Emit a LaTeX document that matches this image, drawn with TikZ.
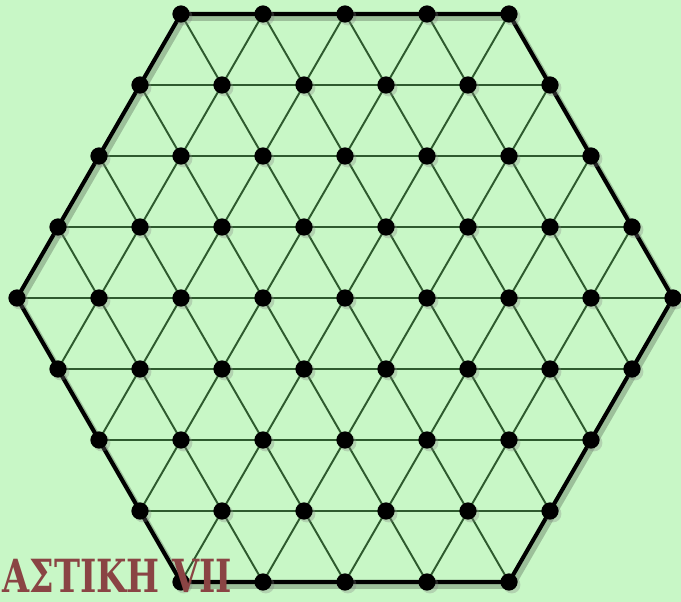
\documentclass[tikz,border=0pt]{standalone}
\usepackage{graphicx}
\usepackage{fontspec}
\usetikzlibrary{backgrounds,shadows}
\newfontfamily\labelfont{DejaVu Serif}
\definecolor{paper}{HTML}{C8F7C6}
\definecolor{meshgreen}{HTML}{2E5A2E}
\definecolor{titlered}{HTML}{8A4444}

\begin{document}
\begin{tikzpicture}[
  x=0.02cm, y=-0.02cm,
  dot/.style={circle, fill=black, inner sep=0pt, minimum size=9.8pt,
              drop shadow={shadow xshift=1.6pt, shadow yshift=-1.6pt, opacity=0.3}},
  mesh/.style={draw=meshgreen, line width=1.1pt},
  rim/.style={draw=black, line width=2.3pt, line join=round},
  rimshade/.style={draw=black, opacity=0.22, line width=3.2pt, line join=round},
  title/.style={font=\labelfont\bfseries\fontsize{26}{26}\selectfont, text=titlered,
                inner sep=0pt},
]
% page
\useasboundingbox (0,0) rectangle (681,602);
% lattice points of the hexagon (side of 4 steps)
\foreach \i in {-4,...,4}{
  \foreach \j in {-4,...,4}{
    \pgfmathtruncatemacro{\s}{abs(\i+\j)}
    \ifnum\s<5
      \pgfmathtruncatemacro{\k}{\i+4}
      \pgfmathtruncatemacro{\l}{\j+4}
      \node[dot] (n\k-\l) at ({345+82*(\i+0.5*\j)},{298-71*\j}) {};
    \fi
  }
}
\begin{scope}[on background layer]
\fill[paper] (0,0) rectangle (681,602);
% shadow of the outline
\draw[rimshade] ([shift={(3,4)}]n8-4.center) -- ([shift={(3,4)}]n4-8.center)
  -- ([shift={(3,4)}]n0-8.center) -- ([shift={(3,4)}]n0-4.center)
  -- ([shift={(3,4)}]n4-0.center) -- ([shift={(3,4)}]n8-0.center) -- cycle;
% inner net
\foreach \k in {0,...,8}{
  \foreach \l in {0,...,8}{
    \foreach \dk/\dl in {1/0,0/1,-1/1}{
      \pgfmathtruncatemacro{\m}{\k+\dk}
      \pgfmathtruncatemacro{\n}{\l+\dl}
      \pgfmathtruncatemacro{\ok}{(abs(\k+\l-8)<5)*(\m>-1)*(\m<9)*(\n<9)*(abs(\m+\n-8)<5)}
      \ifnum\ok=1
        \draw[mesh] (n\k-\l.center) -- (n\m-\n.center);
      \fi
    }
  }
}
% outline
\draw[rim] (n8-4.center) -- (n4-8.center) -- (n0-8.center) -- (n0-4.center)
  -- (n4-0.center) -- (n8-0.center) -- cycle;
\end{scope}
% title
\node[title, anchor=base west] (name) at (2,592) {\scalebox{0.765}[1]{ΑΣΤΙΚΗ VII}};
\end{tikzpicture}
\end{document}
